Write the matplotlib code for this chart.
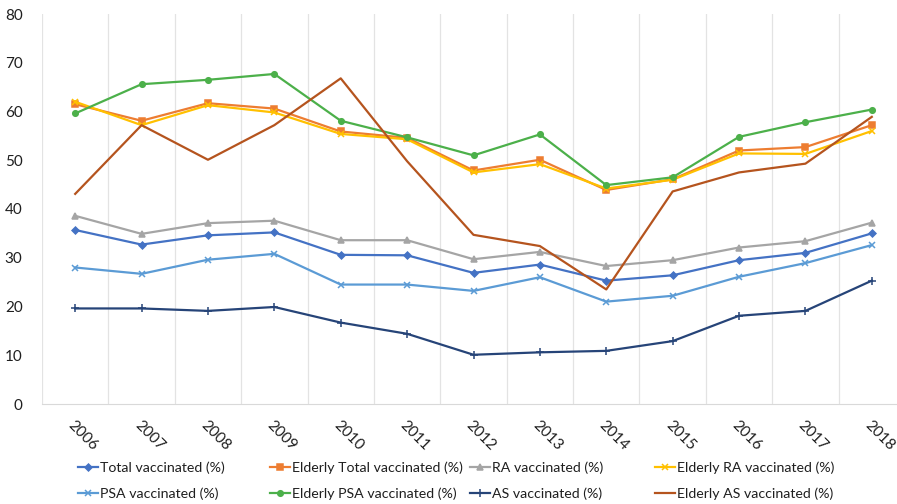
import matplotlib.pyplot as plt
import numpy as np

plt.rcParams['font.family'] = ['Lato', 'DejaVu Sans']

years = [str(y) for y in range(2006, 2019)]

total = [35.7, 32.7, 34.6, 35.2, 30.6, 30.5, 26.9, 28.6, 25.3, 26.4, 29.5, 31.0, 35.0]
elderly_total = [61.5, 58.1, 61.7, 60.6, 55.9, 54.6, 47.9, 50.1, 43.9, 46.1, 52.0, 52.7, 57.2]
ra = [38.6, 34.9, 37.1, 37.6, 33.6, 33.6, 29.7, 31.2, 28.3, 29.5, 32.1, 33.4, 37.2]
elderly_ra = [62.0, 57.2, 61.3, 59.8, 55.4, 54.3, 47.5, 49.2, 44.2, 46.0, 51.4, 51.3, 56.0]
psa = [28.0, 26.7, 29.6, 30.8, 24.5, 24.5, 23.2, 26.0, 21.0, 22.2, 26.1, 28.9, 32.6]
elderly_psa = [59.6, 65.6, 66.5, 67.7, 58.1, 54.7, 51.0, 55.3, 44.9, 46.5, 54.8, 57.8, 60.4]
as_ = [19.6, 19.6, 19.1, 19.9, 16.7, 14.4, 10.1, 10.6, 10.9, 12.9, 18.1, 19.1, 25.3]
elderly_as = [43.1, 57.2, 50.1, 57.2, 66.8, 49.8, 34.7, 32.4, 23.5, 43.6, 47.5, 49.3, 58.9]

series = [
    ("Total vaccinated (%)", total, "#4472C4", "D", 3.5),
    ("Elderly Total vaccinated (%)", elderly_total, "#ED7D31", "s", 4),
    ("RA vaccinated (%)", ra, "#A5A5A5", "^", 4.5),
    ("Elderly RA vaccinated (%)", elderly_ra, "#FFC000", "x", 4.5),
    ("PSA vaccinated (%)", psa, "#5B9BD5", "x", 4.5),
    ("Elderly PSA vaccinated (%)", elderly_psa, "#4CB04A", "o", 4),
    ("AS vaccinated (%)", as_, "#264478", "+", 5.5),
    ("Elderly AS vaccinated (%)", elderly_as, "#B5541E", None, 0),
]

fig = plt.figure(figsize=(8.97, 5.04), dpi=100)
ax = fig.add_axes([42 / 897, 100 / 504, 863 / 897, 390 / 504])

x = np.arange(len(years))
handles = []
for name, vals, col, mk, ms in series:
    h, = ax.plot(x, vals, color=col, lw=1.6, marker=mk, markersize=ms,
                 markeredgewidth=1.1, label=name)
    handles.append(h)

ax.set_xlim(-0.5, len(years) - 0.5)
ax.set_ylim(0, 80)
ax.set_yticks(range(0, 81, 10))
ax.set_xticks(x)
ax.set_xticklabels(years, rotation=-45, ha='left', rotation_mode='anchor')
ax.set_xticks(np.arange(-0.5, len(years), 1), minor=True)
ax.grid(True, axis='x', which='minor', color='#E3E3E3', lw=0.9)
ax.grid(False, axis='x', which='major')
ax.tick_params(axis='both', which='both', length=0, labelsize=11, colors='#1F1F1F')
ax.tick_params(axis='y', pad=14)
ax.tick_params(axis='x', pad=10)
for s in ['top', 'right', 'left']:
    ax.spines[s].set_visible(False)
ax.spines['bottom'].set_color('#D9D9D9')

# legend: four columns, two rows each
col_x = [78, 270, 470, 655]
for c in range(4):
    idx = [c, c + 4]
    fig.legend([handles[i] for i in idx], [series[i][0] for i in idx],
               loc='upper left', bbox_to_anchor=(col_x[c] / 897, 1 - 461 / 504),
               frameon=False, borderpad=0, borderaxespad=0,
               fontsize=10.2, labelcolor='#1F1F1F',
               handlelength=1.4, handletextpad=0.15, labelspacing=0.95)

fig.savefig('out.png', dpi=100)
